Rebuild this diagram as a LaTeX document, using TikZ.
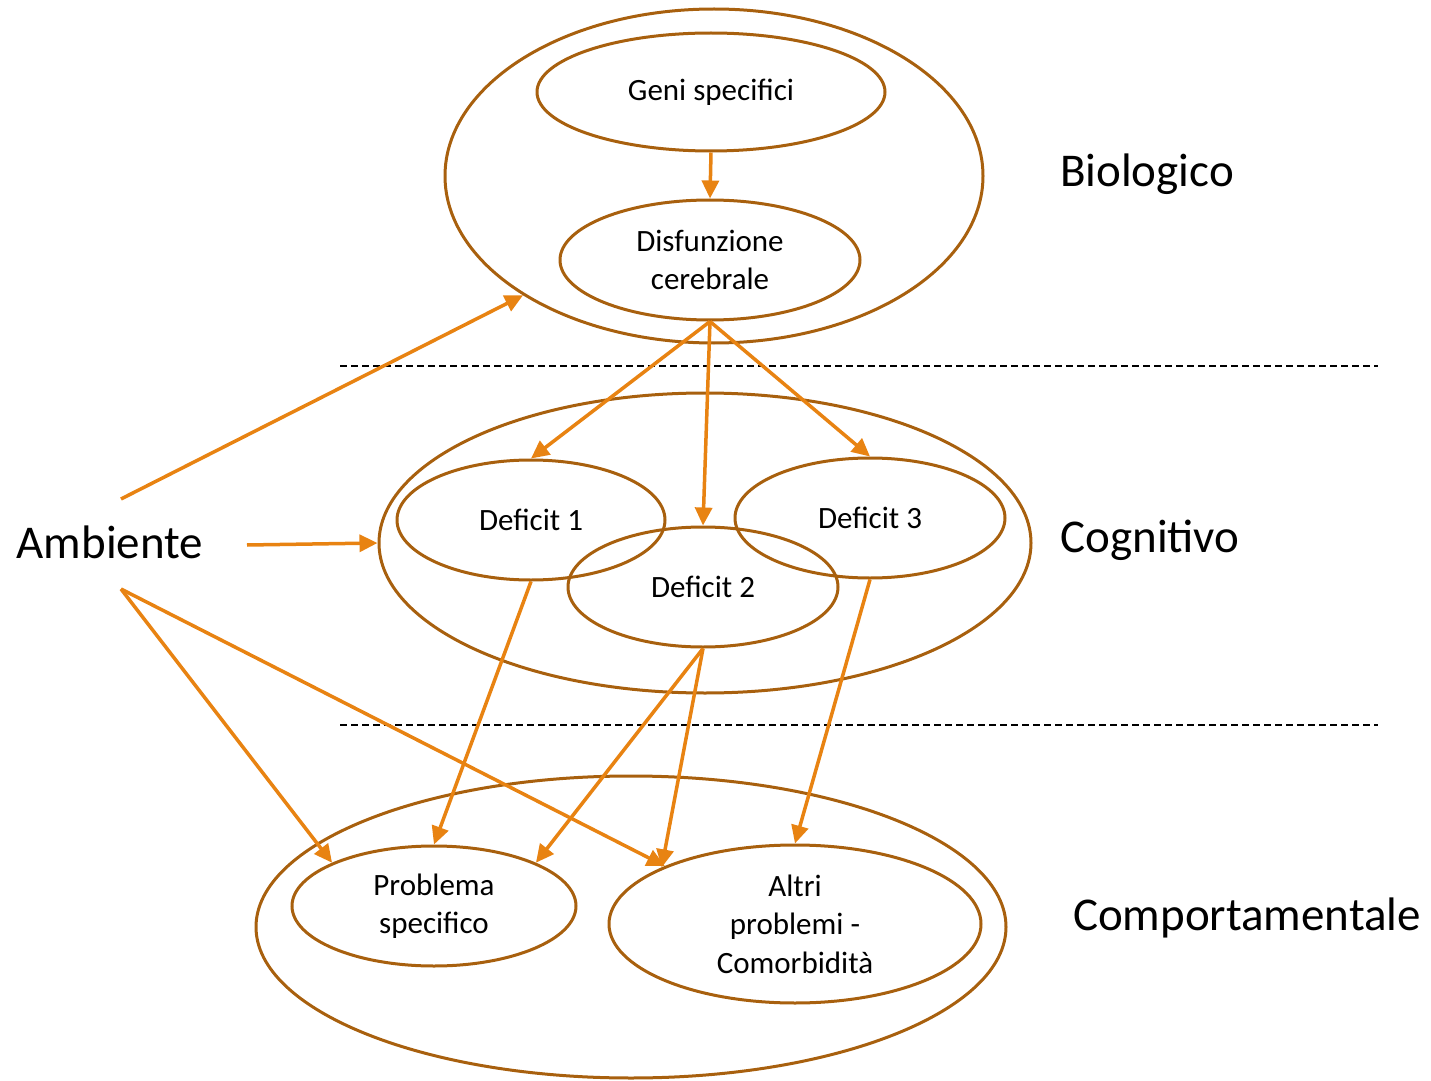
\documentclass[tikz,border=0pt]{standalone}
\usepackage{fontspec}
\setmainfont{Carlito}
\usetikzlibrary{shapes.geometric,arrows.meta}
\definecolor{rim}{RGB}{168,96,14}
\definecolor{flow}{RGB}{232,131,18}
\begin{document}
\begin{tikzpicture}[x=0.5pt,y=-0.5pt,
  oval/.style={ellipse,draw=rim,line width=1.5pt,inner sep=0pt,align=center,
    font=\fontsize{15.5pt}{19.25pt}\selectfont},
  layer/.style={font=\fontsize{23.5pt}{28pt}\selectfont,inner sep=0pt},
  link/.style={draw=flow,line width=1.75pt,-{Triangle[length=9pt,width=8.5pt]}},
  divider/.style={draw=black,line width=1pt,dash pattern=on 3.5pt off 2pt}]
\useasboundingbox (0,0) rectangle (1431,1081);

% layer separators
\draw[divider] (340,366) -- (1378,366);
\draw[divider] (340,725) -- (1378,725);

% biological level
\node[oval,minimum width=269pt,minimum height=167pt] (bio) at (714,176) {};
\node[oval,minimum width=174pt,minimum height=59pt] (geni) at (711,92) {\raisebox{-1pt}{Geni specifici}};
\node[oval,minimum width=150pt,minimum height=60pt] (dis) at (710,260) {Disfunzione\\cerebrale};

% cognitive level
\node[oval,minimum width=326pt,minimum height=150pt] (cog) at (705,543) {};
\node[oval,minimum width=134pt,minimum height=60pt] (d1) at (531,520) {\raisebox{-1pt}{Deficit 1}};
\node[oval,minimum width=135pt,minimum height=60pt] (d3) at (870,518) {\raisebox{-1pt}{Deficit 3}};
\node[oval,minimum width=135pt,minimum height=60pt] (d2) at (703,587) {\raisebox{-1pt}{Deficit 2}};

% behavioural level
\node[oval,minimum width=375pt,minimum height=151pt] (beh) at (631,927) {};
\node[oval,minimum width=142pt,minimum height=60pt] (prob) at (434,906) {Problema\\specifico};
\node[oval,minimum width=186pt,minimum height=79pt] (alt) at (795,924) {Altri\\problemi -\\Comorbidità};

% level labels
\node[layer] (lbio) at (1147,174) {Biologico};
\node[layer] (lcog) at (1150,540) {Cognitivo};
\node[layer] (lbeh) at (1247,918) {Comportamentale};
\node[layer] (amb) at (110,542) {Ambiente};

% environment arrow origins
\coordinate (ambUp) at (121,499);
\coordinate (ambMid) at (247,545);
\coordinate (ambLow) at (121,589);

% causal links
\draw[link] (geni.south) -- (dis.north);
\draw[link] (dis.south) -- (d1.north);
\draw[link] (dis.south) -- (d2.north);
\draw[link] (dis.south) -- (d3.north);
\draw[link] (d1.south) -- (prob.north);
\draw[link] (d2.south) -- (prob.23);
\draw[link] (d2.south) -- (alt.157);
\draw[link] (d3.south) -- (alt.north);
\draw[link] (ambUp) -- (bio.212);
\draw[link] (ambMid) -- (cog.west);
\draw[link] (ambLow) -- (prob.157);
\draw[link] (ambLow) -- (alt.156);
\end{tikzpicture}
\end{document}
